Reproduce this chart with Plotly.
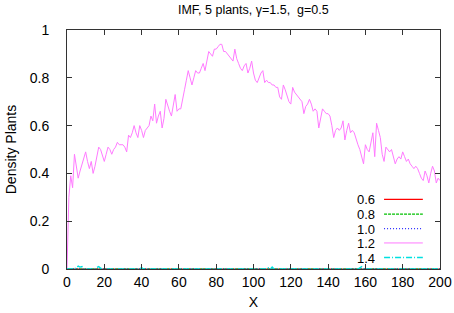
import plotly.graph_objects as go

x_vals = list(range(0, 201))

y_12 = [0.0, 0.30, 0.39, 0.34, 0.48, 0.42, 0.38, 0.41, 0.44, 0.46,
        0.49, 0.45, 0.42, 0.45, 0.40, 0.43, 0.47, 0.51, 0.50, 0.47,
        0.45, 0.48, 0.51, 0.50, 0.48, 0.50, 0.51, 0.53, 0.52, 0.52,
        0.52, 0.51, 0.49, 0.56, 0.55, 0.57, 0.60, 0.57, 0.55, 0.60,
        0.58, 0.55, 0.58, 0.59, 0.60, 0.64, 0.62, 0.69, 0.61, 0.64,
        0.66, 0.59, 0.63, 0.71, 0.68, 0.66, 0.64, 0.69, 0.73, 0.66,
        0.67, 0.67, 0.72, 0.75, 0.79, 0.83, 0.80, 0.77, 0.80, 0.83,
        0.82, 0.82, 0.84, 0.86, 0.83, 0.88, 0.91, 0.90, 0.89, 0.92,
        0.92, 0.93, 0.94, 0.94, 0.91, 0.91, 0.90, 0.89, 0.88, 0.87,
        0.92, 0.88, 0.86, 0.84, 0.83, 0.85, 0.86, 0.82, 0.84, 0.87,
        0.82, 0.79, 0.78, 0.80, 0.82, 0.83, 0.78, 0.79, 0.78, 0.78,
        0.77, 0.77, 0.76, 0.76, 0.72, 0.71, 0.77, 0.75, 0.72, 0.70,
        0.69, 0.76, 0.74, 0.73, 0.72, 0.71, 0.70, 0.65, 0.68, 0.69,
        0.71, 0.69, 0.66, 0.67, 0.66, 0.59, 0.63, 0.67, 0.66, 0.65,
        0.65, 0.64, 0.60, 0.55, 0.58, 0.59, 0.58, 0.59, 0.62, 0.54,
        0.58, 0.61, 0.57, 0.58, 0.57, 0.54, 0.52, 0.50, 0.47, 0.44,
        0.52, 0.50, 0.49, 0.54, 0.57, 0.47, 0.61, 0.58, 0.55, 0.48,
        0.45, 0.51, 0.50, 0.49, 0.50, 0.47, 0.44, 0.46, 0.47, 0.46,
        0.49, 0.47, 0.45, 0.46, 0.44, 0.43, 0.42, 0.43, 0.42, 0.40,
        0.38, 0.37, 0.41, 0.39, 0.36, 0.40, 0.43, 0.41, 0.36, 0.38,
        0.37]

y_14 = [0.0] * 201
cyan_bumps = {5: 0.005, 6: 0.012, 7: 0.008, 8: 0.01, 16: 0.006, 17: 0.01,
              18: 0.004, 29: 0.003, 40: 0.006, 60: 0.003, 108: 0.005,
              110: 0.008, 157: 0.005, 158: 0.01}
for k, v in cyan_bumps.items():
    y_14[k] = v

y_06 = [0.0] * 201
y_08 = [0.0] * 201
y_10 = [0.0] * 201

series_names = ["0.6", "0.8", "1.0", "1.2", "1.4"]
series_values = [y_06, y_08, y_10, y_12, y_14]
colors = ["#ff0000", "#00c000", "#3030ff", "#ff7aff", "#00e0e0"]
dashes = ["solid", "3px,1px", "1px,2px", "solid", "6px,2px,1px,2px"]
widths = [1.2, 1.2, 1.2, 1.0, 1.4]

x_ticks = list(range(0, 201, 20))
y_ticks = [0, 0.2, 0.4, 0.6, 0.8, 1]

fig = go.Figure()
for name, ys, c, d, w in zip(series_names, series_values, colors, dashes, widths):
    fig.add_trace(go.Scatter(x=x_vals, y=ys, mode="lines", name=name,
                             line=dict(color=c, dash=d, width=w),
                             showlegend=False))

font = "Liberation Sans, Arial, Helvetica, sans-serif"

# custom gnuplot-style legend (text then line sample)
leg_rows = [0.291, 0.230, 0.169, 0.109, 0.048]
annotations = []
shapes = []
for name, c, d, w, yy in zip(series_names, colors, dashes, widths, leg_rows):
    annotations.append(dict(x=0.828, y=yy, xref="paper", yref="paper",
                            text=name, showarrow=False, xanchor="right",
                            yanchor="middle", height=12, borderpad=0,
                            font=dict(size=13, color="#000")))
    shapes.append(dict(type="line", xref="paper", yref="paper",
                       x0=0.850, x1=0.954, y0=yy, y1=yy,
                       line=dict(color=c, dash=d, width=w)))

axis_common = dict(showline=True, linecolor="#333", linewidth=1, mirror="ticks",
                   ticks="inside", ticklen=5, tickcolor="#333", showgrid=False,
                   zeroline=False, automargin=False,
                   tickfont=dict(size=14, color="#000"))

fig.update_layout(
    width=454, height=313,
    margin=dict(l=67, r=14, t=30, b=44),
    paper_bgcolor="white", plot_bgcolor="white",
    font=dict(family=font, color="#000"),
    title=dict(text="IMF, 5 plants, γ=1.5,  g=0.5", x=0.558, xanchor="center",
               y=0.968, yanchor="middle", font=dict(size=12.5)),
    xaxis=dict(range=[0, 200], tickvals=x_ticks, ticklabelstandoff=0, **axis_common,
               title=dict(text="X", font=dict(size=14), standoff=8)),
    yaxis=dict(range=[0, 1], tickvals=y_ticks, ticklabelstandoff=14, **axis_common,
               title=dict(text="Density Plants", font=dict(size=14), standoff=9)),
    annotations=annotations,
    shapes=shapes,
)

fig.write_html("out.html",
               config={"displayModeBar": False},
               post_script="document.body.style.margin='0';document.body.style.overflow='hidden';")
